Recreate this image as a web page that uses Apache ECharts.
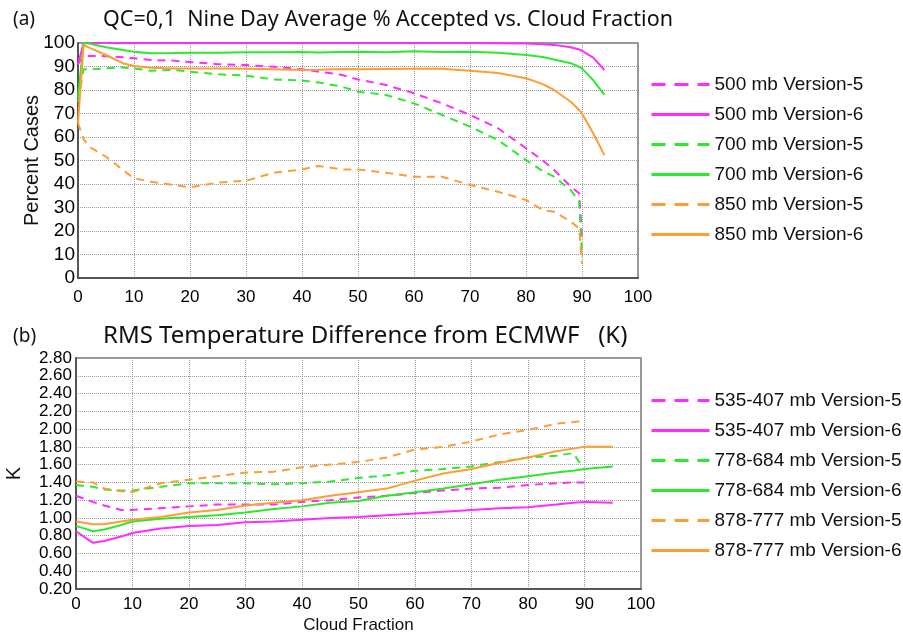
<!DOCTYPE html>
<html>
<head>
<meta charset="utf-8">
<script src="https://cdn.jsdelivr.net/npm/echarts@6/dist/echarts.min.js"></script>
<style>
  html, body { margin: 0; padding: 0; background: #fff; }
  #chart { width: 903px; height: 635px; }
</style>
</head>
<body>
<div id="chart"></div>
<script>
// (a) percent accepted vs cloud fraction
const xTop = [0, 1, 2, 5, 8, 10, 13, 17, 20, 25, 30, 35, 40, 43, 47, 50, 55, 60, 65, 70, 75, 80, 83, 85, 88, 89.5, 90, 92, 94]
const mb500v5 = [91, 94.5, 94.5, 94.4, 93.9, 93.5, 92.8, 92.5, 91.9, 91, 90.6, 89.9, 88.8, 87.8, 86.5, 84.5, 82.1, 78.6, 74.3, 69.4, 63.7, 55.2, 50, 46, 38.9, 36, 17, null, null]
const mb500v6 = [91, 100, 100, 100, 100, 100, 100, 100, 100, 100, 100, 100, 100, 100, 100, 100, 100, 100, 100, 100, 99.9, 99.8, 99.5, 99.2, 98.2, 97.2, 96.7, 93.8, 88.5]
const mb700v5 = [75, 88.8, 88.8, 89.2, 89.6, 89.2, 88.2, 88.5, 87.8, 86.7, 86.1, 84.5, 84, 83.2, 81.5, 79.3, 77.9, 74.3, 69.4, 64.4, 58.7, 50.2, 45.5, 43.1, 37.4, 32.5, 9, null, null]
const mb700v6 = [77, 100, 99.8, 98.2, 97, 96.3, 95.6, 95.7, 95.9, 95.8, 96.1, 96.1, 96.2, 96, 96.2, 96.3, 96.1, 96.5, 96.2, 96.3, 95.8, 94.9, 94, 93, 91.4, 89.8, 89.2, 84.2, 77.9]
const mb850v5 = [66, 59, 55.9, 51.6, 46, 42.4, 41, 39.6, 38.6, 40.6, 41.4, 44.8, 46.2, 47.7, 46.2, 46.2, 44.8, 43.1, 43.1, 39.6, 36.7, 33.2, 28.9, 28.2, 24, 21.1, 6, null, null]
const mb850v6 = [66, 99.1, 98, 94.9, 91.4, 90.2, 89.5, 89.2, 89.2, 89.2, 89, 88.8, 88.5, 88.6, 88.9, 88.8, 88.9, 89, 89, 88.2, 87.2, 85, 82.5, 80, 75, 71.5, 70, 61.6, 52.3]

// (b) RMS temperature difference
const xBot = [0, 3, 5, 8, 10, 15, 20, 25, 30, 35, 40, 45, 50, 55, 60, 65, 70, 75, 80, 85, 88, 90, 95]
const l535v5 = [1.25, 1.18, 1.14, 1.09, 1.09, 1.11, 1.13, 1.15, 1.15, 1.15, 1.18, 1.20, 1.23, 1.25, 1.28, 1.31, 1.33, 1.34, 1.37, 1.39, 1.40, 1.40, null]
const l535v6 = [0.85, 0.72, 0.74, 0.79, 0.83, 0.88, 0.91, 0.92, 0.95, 0.96, 0.98, 1.00, 1.01, 1.03, 1.05, 1.07, 1.09, 1.11, 1.12, 1.15, 1.17, 1.18, 1.17]
const l778v5 = [1.37, 1.35, 1.32, 1.31, 1.31, 1.35, 1.39, 1.39, 1.39, 1.38, 1.39, 1.41, 1.45, 1.48, 1.53, 1.55, 1.58, 1.63, 1.68, 1.70, 1.73, 1.54, null]
const l778v6 = [0.91, 0.85, 0.87, 0.92, 0.96, 0.99, 1.01, 1.03, 1.06, 1.10, 1.13, 1.17, 1.19, 1.25, 1.29, 1.33, 1.38, 1.43, 1.47, 1.51, 1.53, 1.55, 1.58]
const l878v5 = [1.41, 1.40, 1.33, 1.30, 1.29, 1.39, 1.43, 1.47, 1.51, 1.52, 1.57, 1.60, 1.63, 1.68, 1.77, 1.80, 1.86, 1.94, 1.99, 2.06, 2.08, 2.09, null]
const l878v6 = [0.96, 0.93, 0.93, 0.96, 0.98, 1.01, 1.06, 1.09, 1.14, 1.17, 1.20, 1.25, 1.29, 1.33, 1.42, 1.50, 1.55, 1.62, 1.68, 1.75, 1.78, 1.80, 1.80]

const topNames = ['500 mb Version-5', '500 mb Version-6', '700 mb Version-5', '700 mb Version-6', '850 mb Version-5', '850 mb Version-6']
const botNames = ['535-407 mb Version-5', '535-407 mb Version-6', '778-684 mb Version-5', '778-684 mb Version-6', '878-777 mb Version-5', '878-777 mb Version-6']

const MAGENTA = '#ff2bff'
const GREEN = '#2ee82e'
const ORANGE = '#ff9c33'
const colors = [MAGENTA, MAGENTA, GREEN, GREEN, ORANGE, ORANGE]

const chart = echarts.init(document.getElementById('chart'))

const pairs = (xs, ys) => xs.map((x, i) => [x, ys[i]]).filter(p => p[1] !== null)

const mkSeries = (name, xs, ys, idx, gi) => ({
  name,
  type: 'line',
  xAxisIndex: gi,
  yAxisIndex: gi,
  data: pairs(xs, ys),
  symbol: 'none',
  lineStyle: {color: colors[idx], width: 2, type: idx % 2 === 0 ? [8, 6] : 'solid'},
  itemStyle: {color: colors[idx]}
})

const FONT = 'Liberation Sans, Arial'
const TITLE_FONT = 'Noto Sans'
const splitLine = {show: true, lineStyle: {color: '#9a9a9a', type: 'dotted', width: 1}}
const axisLine = {show: true, lineStyle: {color: '#555', width: 2}}

const xAxisBase = {
  type: 'value', min: 0, max: 100, interval: 10,
  axisLine, axisTick: {show: false}, splitLine
}

const topSeries = [mb500v5, mb500v6, mb700v5, mb700v6, mb850v5, mb850v6]
  .map((ys, i) => mkSeries(topNames[i], xTop, ys, i, 0))
const botSeries = [l535v5, l535v6, l778v5, l778v6, l878v5, l878v6]
  .map((ys, i) => mkSeries(botNames[i], xBot, ys, i, 1))

// 图例：只要线，不要圆点；虚线用更长的段
const legendItems = names => names.map((name, i) => ({
  name,
  lineStyle: {width: 3, type: i % 2 === 0 ? [14, 9] : 'solid'}
}))

const legendBase = {
  orient: 'vertical',
  left: 645,
  itemWidth: 58,
  itemHeight: 14,
  itemGap: 11,
  textStyle: {color: '#111', fontSize: 19, fontFamily: FONT},
  lineStyle: {width: 3},
  itemStyle: {opacity: 0}
}

const titleStyle = {fontSize: 21.5, fontWeight: 'normal', fontFamily: TITLE_FONT, color: '#111'}
const nameStyle = {color: '#111', fontSize: 20, fontFamily: FONT}

const option = {
  animation: false,
  backgroundColor: '#fff',
  title: [
    {text: '(a)', left: 8, top: 5, textStyle: {...titleStyle, fontSize: 19}},
    {text: 'QC=0,1  Nine Day Average % Accepted vs. Cloud Fraction', left: 98, top: 4, textStyle: titleStyle},
    {text: '(b)', left: 8, top: 322, textStyle: {...titleStyle, fontSize: 19}},
    {text: 'RMS Temperature Difference from ECMWF   (K)', left: 98, top: 319, textStyle: {...titleStyle, fontSize: 24}}
  ],
  legend: [
    {...legendBase, top: 70, data: legendItems(topNames)},
    {...legendBase, top: 386, data: legendItems(botNames)}
  ],
  grid: [
    {left: 78, right: 265, top: 43, height: 235, show: true, borderColor: '#777', borderWidth: 1.5, outerBoundsMode: 'none'},
    {left: 76, right: 262, top: 358, height: 231, show: true, borderColor: '#777', borderWidth: 1.5, outerBoundsMode: 'none'}
  ],
  xAxis: [
    {...xAxisBase, gridIndex: 0, axisLabel: {color: '#000', fontSize: 17, fontFamily: FONT, margin: 11}},
    {...xAxisBase, gridIndex: 1, axisLabel: {color: '#000', fontSize: 17, fontFamily: FONT, margin: 7},
      name: 'Cloud Fraction', nameLocation: 'middle', nameGap: 28, nameMoveOverlap: false,
      nameTextStyle: {...nameStyle, fontSize: 17}}
  ],
  yAxis: [
    {
      type: 'value', gridIndex: 0, min: 0, max: 100, interval: 10,
      axisLine, axisTick: {show: false}, splitLine,
      axisLabel: {color: '#000', fontSize: 19, fontFamily: FONT, margin: 3},
      name: 'Percent Cases', nameLocation: 'middle', nameGap: 36, nameMoveOverlap: false,
      nameTextStyle: nameStyle
    },
    {
      type: 'value', gridIndex: 1, min: 0.2, max: 2.8, interval: 0.2,
      axisLine, axisTick: {show: false}, splitLine,
      axisLabel: {color: '#000', fontSize: 17, fontFamily: FONT, margin: 4, lineHeight: 17,
        formatter: v => v.toFixed(2)},
      name: 'K', nameLocation: 'middle', nameGap: 52, nameMoveOverlap: false,
      nameTextStyle: nameStyle
    }
  ],
  series: [...topSeries, ...botSeries]
}

chart.setOption(option)
window.addEventListener('resize', () => chart.resize())
</script>
</body>
</html>
